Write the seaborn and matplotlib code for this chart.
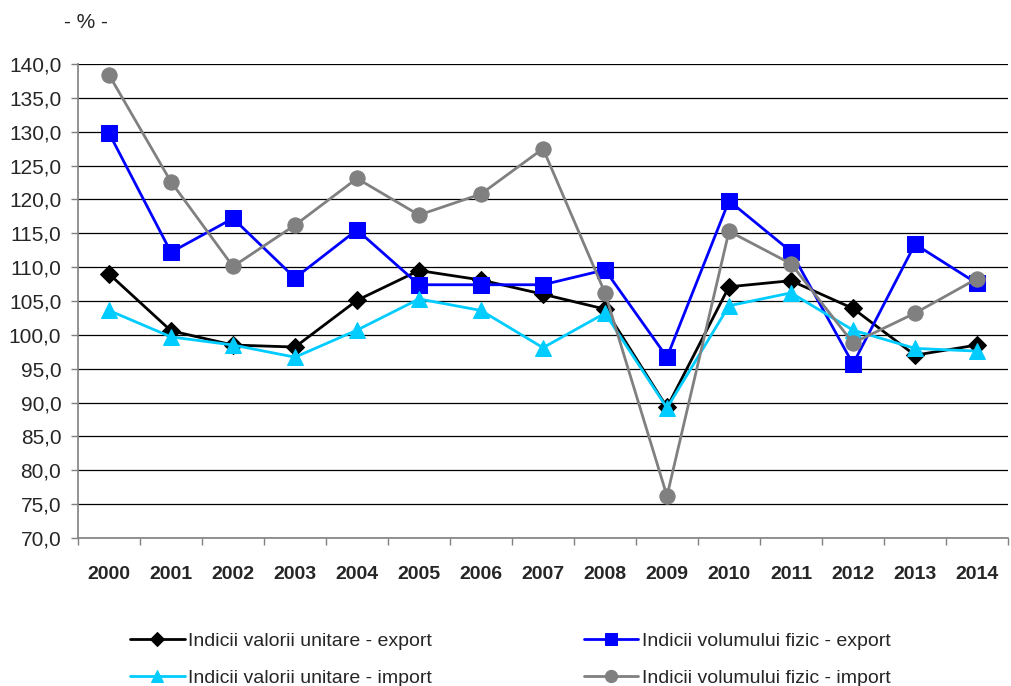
import numpy as np
import pandas as pd
import matplotlib
matplotlib.use("Agg")
import matplotlib.pyplot as plt
from matplotlib.ticker import FixedLocator, FuncFormatter
import seaborn as sns

# %%
ani = [str(a) for a in range(2000, 2015)]

val_unit_export = [109.0, 100.6, 98.5, 98.2, 105.1, 109.5, 108.1, 106.0, 103.8, 89.3, 107.1, 108.0, 103.9, 97.0, 98.5]
val_unit_import = [103.6, 99.7, 98.5, 96.7, 100.7, 105.3, 103.6, 98.1, 103.2, 89.2, 104.3, 106.2, 100.7, 98.0, 97.6]
vol_fizic_export = [129.8, 112.2, 117.2, 108.4, 115.5, 107.4, 107.4, 107.4, 109.6, 96.7, 119.8, 112.3, 95.7, 113.4, 107.6]
vol_fizic_import = [138.4, 122.6, 110.1, 116.2, 123.1, 117.7, 120.8, 127.5, 106.2, 76.2, 115.3, 110.5, 98.8, 103.2, 108.3]

serii = [
    ("Indicii valorii unitare - export", val_unit_export, "black", "D", 9),
    ("Indicii volumului fizic - export", vol_fizic_export, "#0000FF", "s", 11),
    ("Indicii valorii unitare - import", val_unit_import, "#00CCFF", "^", 11),
    ("Indicii volumului fizic - import", vol_fizic_import, "#808080", "o", 11),
]

# %%
sns.set_theme(style="white")
plt.rcParams['font.family'] = ['Liberation Sans', 'DejaVu Sans']

fig = plt.figure(figsize=(10.11, 6.86), dpi=100)
ax = fig.add_axes([78 / 1011, 1 - 538 / 686, 930 / 1011, 474 / 686])

x = np.arange(len(ani))
for nume, valori, culoare, marker, ms in serii:
    df = pd.DataFrame({'x': x, 'valoare': valori})
    sns.lineplot(data=df, x='x', y='valoare', ax=ax, color=culoare, marker=marker,
                 markersize=ms, markeredgecolor=culoare, linewidth=2, label=nume)

ax.set_xlim(-0.5, len(ani) - 0.5)
ax.set_ylim(70, 140)
ax.set_yticks(np.arange(70, 141, 5))
ax.yaxis.set_major_formatter(FuncFormatter(lambda v, p: f"{v:.1f}".replace('.', ',')))
ax.yaxis.grid(True, color='black', linewidth=0.9)
ax.set_axisbelow(True)

ax.set_xticks(x)
ax.set_xticklabels(ani, fontweight='bold', fontsize=14)
ax.xaxis.set_minor_locator(FixedLocator(np.arange(-0.5, len(ani), 1)))
ax.tick_params(axis='x', which='major', length=0, pad=20)
ax.tick_params(axis='x', which='minor', length=5, width=1, color='#808080', direction='out', bottom=True)
ax.tick_params(axis='y', which='major', length=5, width=1, color='#808080', direction='out', left=True,
               labelsize=15, pad=7)
ax.set_xlabel('')
ax.set_ylabel('')

for s in ['top', 'right']:
    ax.spines[s].set_visible(False)
for s in ['left', 'bottom']:
    ax.spines[s].set_color('#808080')
    ax.spines[s].set_linewidth(1.2)

fig.text(86 / 1011, 1 - 23 / 686, '- % -', ha='center', va='center', fontsize=15)

# legenda: randul 1 export, randul 2 import
handles, labels = ax.get_legend_handles_labels()
ax.get_legend().remove()
ordine = [0, 2, 1, 3]
fig.legend([handles[i] for i in ordine], [labels[i] for i in ordine],
           loc='center', bbox_to_anchor=(0.505, 0.039), ncol=2, frameon=False,
           fontsize=14, markerscale=0.8, handlelength=2.8, handletextpad=0.2,
           columnspacing=7.8, labelspacing=1.0)

fig.savefig('out.png', dpi=100)
